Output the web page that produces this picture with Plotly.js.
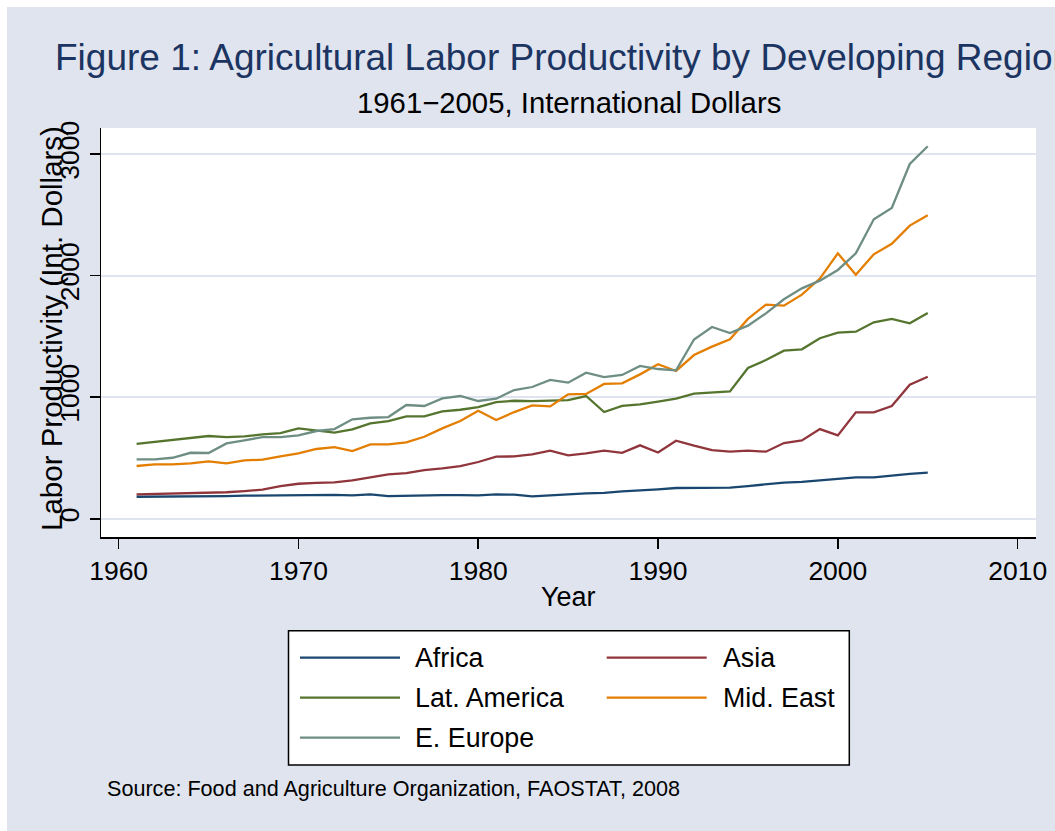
<!DOCTYPE html>
<html>
<head>
<meta charset="utf-8">
<script src="https://cdn.plot.ly/plotly-3.0.1.min.js"></script>
<style>html,body{margin:0;padding:0;background:#fff;}#chart{width:1055px;height:831px;}</style>
</head>
<body>
<div id="chart"></div>
<script>
// ---- data ----
const years = [1961,1962,1963,1964,1965,1966,1967,1968,1969,1970,
               1971,1972,1973,1974,1975,1976,1977,1978,1979,1980,
               1981,1982,1983,1984,1985,1986,1987,1988,1989,1990,
               1991,1992,1993,1994,1995,1996,1997,1998,1999,2000,
               2001,2002,2003,2004,2005];

const africa = [181,181,184,185,185,187,190,192,193,193,
                195,196,193,201,186,191,190,195,195,192,
                201,198,185,190,201,209,213,225,231,242,
                253,255,252,256,269,285,298,303,315,325,
                340,341,356,369,379];

const asia = [201,204,206,214,216,218,228,239,269,288,
              296,299,316,343,365,375,401,415,434,467,
              511,513,530,560,522,538,560,543,604,545,
              642,601,564,552,560,552,623,645,738,686,
              876,876,928,1103,1169];

const latAmerica = [617,634,648,667,681,672,678,694,705,744,
                    724,708,736,785,804,843,843,884,897,919,
                    960,971,968,974,976,1010,878,928,941,963,
                    988,1029,1040,1048,1240,1306,1383,1394,1485,1531,
                    1539,1616,1644,1608,1693];

const midEast = [434,447,447,456,472,456,480,486,513,538,
                 574,590,557,612,612,629,675,744,804,889,
                 812,878,933,925,1024,1027,1109,1114,1188,1271,
                 1216,1347,1416,1476,1644,1762,1753,1844,1976,2184,
                 2008,2176,2263,2412,2497];

const eEurope = [489,489,502,543,541,620,645,672,672,686,
                 722,738,818,831,837,936,928,991,1010,969,
                 988,1059,1084,1142,1120,1202,1166,1183,1257,1232,
                 1221,1475,1578,1528,1589,1690,1806,1896,1959,2047,
                 2184,2464,2557,2919,3065];

const seriesNames = ["Africa","Asia","Lat. America","Mid. East","E. Europe"];
const seriesValues = [africa, asia, latAmerica, midEast, eEurope];
const seriesColors = ["#1a476f","#90353b","#55752f","#e37e00","#6e8e84"];

const xTickVals = [1960,1970,1980,1990,2000,2010];
const yTickVals = [0,1000,2000,3000];

const titleText = "Figure 1: Agricultural Labor Productivity by Developing Regions";
const subtitleText = "1961\u22122005, International Dollars";
const xTitle = "Year";
const yTitle = "Labor Productivity (Int. Dollars)";
const sourceText = "Source: Food and Agriculture Organization, FAOSTAT, 2008";

// ---- geometry helpers (pixel -> paper) ----
const W = 1055, H = 831;
const L = 101, R = 1036, T = 128, B = 537;
const px = x => (x - L) / (R - L);
const py = y => (B - y) / (B - T);

const bg = "#dfe4ef";
const FONT = "Liberation Sans, Arial, sans-serif";

const traces = seriesNames.map((n, i) => ({
  type: "scatter", mode: "lines", name: n,
  x: years, y: seriesValues[i],
  line: {color: seriesColors[i], width: 2.3},
  showlegend: false, hoverinfo: "x+y+name"
}));

// manual legend, Stata style (two columns, row-major)
const shapes = [
  // white strips at the top and left edges
  {type:"rect", xref:"paper", yref:"paper", x0:px(0), x1:px(7), y0:py(0), y1:py(H), fillcolor:"#ffffff", line:{width:0}, layer:"below"},
  {type:"rect", xref:"paper", yref:"paper", x0:px(0), x1:px(W), y0:py(0), y1:py(7), fillcolor:"#ffffff", line:{width:0}, layer:"below"},
  // legend box
  {type:"rect", xref:"paper", yref:"paper", x0:px(288.5), x1:px(849.3), y0:py(630.7), y1:py(765), fillcolor:"#ffffff", line:{color:"#000000", width:1.5}, layer:"above"}
];
const annotations = [];
const colX = [[300,400,413],[606.7,706.7,721]];
const rowY = [657.7, 697.7, 737.7];
seriesNames.forEach((n, i) => {
  const c = colX[i % 2], yy = rowY[Math.floor(i / 2)];
  shapes.push({type:"line", xref:"paper", yref:"paper", x0:px(c[0]), x1:px(c[1]), y0:py(yy), y1:py(yy), line:{color:seriesColors[i], width:2.3}, layer:"above"});
  annotations.push({xref:"paper", yref:"paper", x:px(c[2]), y:py(yy), xanchor:"left", yanchor:"middle", showarrow:false, text:n, font:{family:FONT, size:26.8, color:"#000"}});
});

annotations.push(
  {xref:"paper", yref:"paper", x:px(569), y:py(102), xanchor:"center", yanchor:"middle", showarrow:false, text:subtitleText, font:{family:FONT, size:29.3, color:"#000"}},
  {xref:"paper", yref:"paper", x:px(568.5), y:py(597), xanchor:"center", yanchor:"middle", showarrow:false, text:xTitle, font:{family:FONT, size:27, color:"#000"}},
  {xref:"paper", yref:"paper", x:px(51), y:py(329), xanchor:"center", yanchor:"middle", showarrow:false, textangle:-90, text:yTitle, font:{family:FONT, size:29.5, color:"#000"}},
  {xref:"paper", yref:"paper", x:px(104.5), y:py(788), xanchor:"left", yanchor:"middle", showarrow:false, text:sourceText, font:{family:FONT, size:21.6, color:"#000"}}
);

const layout = {
  width: W, height: H,
  margin: {l: L, r: W - R, t: T, b: H - B, pad: 0},
  paper_bgcolor: bg,
  plot_bgcolor: "#ffffff",
  showlegend: false,
  title: {text: titleText, x: 55 / W, xanchor: "left", xref: "container", y: 1 - 57 / H, yanchor: "middle", yref: "container",
          font: {family: FONT, size: 37, color: "#1c3461"}},
  xaxis: {
    range: [1959.02, 2011.02], tickvals: xTickVals, ticktext: xTickVals.map(String),
    showgrid: false, zeroline: false, showline: true, linecolor: "#000", linewidth: 1.5,
    ticks: "outside", ticklen: 10, tickwidth: 1.5, tickcolor: "#000",
    tickfont: {family: FONT, size: 26.5, color: "#000"}
  },
  yaxis: {
    range: [-150, 3215], tickvals: yTickVals, ticktext: yTickVals.map(String),
    showgrid: true, gridcolor: bg, gridwidth: 2, zeroline: false,
    showline: true, linecolor: "#000", linewidth: 1.5,
    ticks: "outside", ticklen: 10, tickwidth: 1.5, tickcolor: "#000", tickangle: -90,
    tickfont: {family: FONT, size: 26.5, color: "#000"}
  },
  shapes: shapes,
  annotations: annotations
};

Plotly.newPlot("chart", traces, layout, {displayModeBar: false, staticPlot: true});
</script>
</body>
</html>
